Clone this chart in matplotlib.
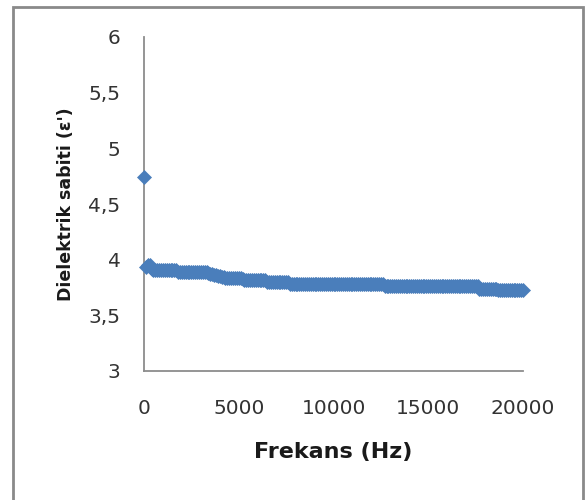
import matplotlib
matplotlib.use("Agg")
import matplotlib.pyplot as plt
from matplotlib.patches import Rectangle

# ---- data ----
freq_hz = [
    20,
    100, 200, 300, 400, 500, 600, 700, 800, 900, 1000,
    1100, 1200, 1300, 1400, 1500, 1600, 1700, 1800, 1900, 2000,
    2100, 2200, 2300, 2400, 2500, 2600, 2700, 2800, 2900, 3000,
    3100, 3200, 3300, 3400, 3500, 3600, 3700, 3800, 3900, 4000,
    4100, 4200, 4300, 4400, 4500, 4600, 4700, 4800, 4900, 5000,
    5100, 5200, 5300, 5400, 5500, 5600, 5700, 5800, 5900, 6000,
    6100, 6200, 6300, 6400, 6500, 6600, 6700, 6800, 6900, 7000,
    7100, 7200, 7300, 7400, 7500, 7600, 7700, 7800, 7900, 8000,
    8100, 8200, 8300, 8400, 8500, 8600, 8700, 8800, 8900, 9000,
    9100, 9200, 9300, 9400, 9500, 9600, 9700, 9800, 9900, 10000,
    10100, 10200, 10300, 10400, 10500, 10600, 10700, 10800, 10900, 11000,
    11100, 11200, 11300, 11400, 11500, 11600, 11700, 11800, 11900, 12000,
    12100, 12200, 12300, 12400, 12500, 12600, 12700, 12800, 12900, 13000,
    13100, 13200, 13300, 13400, 13500, 13600, 13700, 13800, 13900, 14000,
    14100, 14200, 14300, 14400, 14500, 14600, 14700, 14800, 14900, 15000,
    15100, 15200, 15300, 15400, 15500, 15600, 15700, 15800, 15900, 16000,
    16100, 16200, 16300, 16400, 16500, 16600, 16700, 16800, 16900, 17000,
    17100, 17200, 17300, 17400, 17500, 17600, 17700, 17800, 17900, 18000,
    18100, 18200, 18300, 18400, 18500, 18600, 18700, 18800, 18900, 19000,
    19100, 19200, 19300, 19400, 19500, 19600, 19700, 19800, 19900, 20000,
]
eps_real = [
    4.74,
    3.93, 3.95, 3.95, 3.92, 3.91, 3.91, 3.91, 3.91, 3.91, 3.91,
    3.91, 3.91, 3.91, 3.91, 3.91, 3.91, 3.91, 3.885, 3.885, 3.885,
    3.885, 3.885, 3.885, 3.885, 3.885, 3.885, 3.885, 3.885, 3.885, 3.885,
    3.885, 3.885, 3.885, 3.88, 3.875, 3.87, 3.865, 3.86, 3.855, 3.85,
    3.845, 3.84, 3.835, 3.835, 3.835, 3.835, 3.835, 3.835, 3.835, 3.835,
    3.835, 3.825, 3.82, 3.815, 3.815, 3.815, 3.815, 3.815, 3.815, 3.815,
    3.815, 3.815, 3.815, 3.815, 3.80, 3.80, 3.80, 3.80, 3.80, 3.80,
    3.80, 3.80, 3.80, 3.80, 3.80, 3.80, 3.78, 3.78, 3.78, 3.78,
    3.78, 3.78, 3.78, 3.78, 3.78, 3.78, 3.78, 3.78, 3.78, 3.78,
    3.78, 3.78, 3.78, 3.78, 3.78, 3.78, 3.78, 3.78, 3.78, 3.78,
    3.78, 3.78, 3.78, 3.78, 3.78, 3.78, 3.78, 3.78, 3.78, 3.78,
    3.78, 3.78, 3.78, 3.78, 3.78, 3.78, 3.78, 3.78, 3.78, 3.78,
    3.78, 3.78, 3.78, 3.78, 3.78, 3.78, 3.76, 3.76, 3.76, 3.76,
    3.76, 3.76, 3.76, 3.76, 3.76, 3.76, 3.76, 3.76, 3.76, 3.76,
    3.76, 3.76, 3.76, 3.76, 3.76, 3.76, 3.76, 3.76, 3.76, 3.76,
    3.76, 3.76, 3.76, 3.76, 3.76, 3.76, 3.76, 3.76, 3.76, 3.76,
    3.76, 3.76, 3.76, 3.76, 3.76, 3.76, 3.76, 3.76, 3.76, 3.76,
    3.76, 3.76, 3.76, 3.76, 3.76, 3.76, 3.74, 3.74, 3.74, 3.74,
    3.74, 3.74, 3.74, 3.74, 3.74, 3.74, 3.725, 3.725, 3.725, 3.725,
    3.725, 3.725, 3.725, 3.725, 3.725, 3.725, 3.725, 3.725, 3.725, 3.725,
]

x_ticks = [0, 5000, 10000, 15000, 20000]
x_ticklabels = ["0", "5000", "10000", "15000", "20000"]
y_ticks = [3, 3.5, 4, 4.5, 5, 5.5, 6]
y_ticklabels = ["3", "3,5", "4", "4,5", "5", "5,5", "6"]

plt.rcParams['font.family'] = ['DejaVu Sans']

fig = plt.figure(figsize=(5.86, 5.00), dpi=100)
fig.patch.set_facecolor('white')
ax = fig.add_axes([144/586, 1 - 371/500, (523 - 144)/586, (371 - 37)/500])

ax.plot(freq_hz, eps_real, linestyle='none', marker='D', markersize=7,
        color='#4A7EBB', markeredgecolor='#4A7EBB', markeredgewidth=0.5,
        clip_on=False, zorder=3)

ax.set_xlim(0, 20000)
ax.set_ylim(3, 6)
ax.set_xticks(x_ticks)
ax.set_xticklabels(x_ticklabels)
ax.set_yticks(y_ticks)
ax.set_yticklabels(y_ticklabels)
ax.tick_params(axis='x', length=0, pad=20, labelsize=14.5, colors='#333333')
ax.tick_params(axis='y', length=0, pad=17, labelsize=14.5, colors='#333333')

for side in ['top', 'right']:
    ax.spines[side].set_visible(False)
for side in ['left', 'bottom']:
    ax.spines[side].set_color('#8c8c8c')
    ax.spines[side].set_linewidth(1.3)

ax.set_xlabel("Frekans (Hz)", fontsize=16, fontweight='bold', color='#1a1a1a',
              va='center')
ax.xaxis.set_label_coords((333 - 144)/379, (371 - 452)/334)
ax.set_ylabel("Dielektrik sabiti (ε')", fontsize=12.5, fontweight='bold',
              color='#1a1a1a', va='center')
ax.yaxis.set_label_coords((66 - 144)/379, 0.5)

# outer chart frame
fig.patches.append(Rectangle((13/586, -0.02), (583 - 13)/586, 1.02 - 7/500,
                             transform=fig.transFigure, fill=False,
                             edgecolor='#8a8a8a', linewidth=2))

fig.savefig("out.png", dpi=100, facecolor='white')
